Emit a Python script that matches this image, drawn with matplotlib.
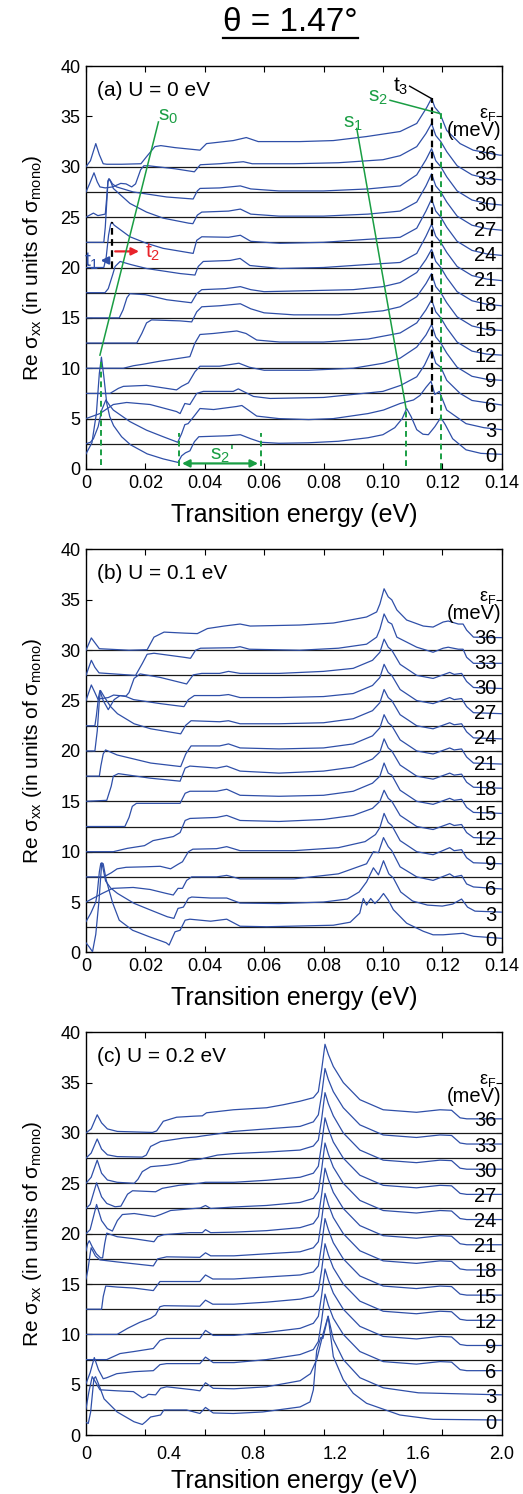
import numpy as np
import matplotlib.pyplot as plt
from matplotlib.lines import Line2D

plt.rcParams['font.family'] = ['Liberation Sans', 'DejaVu Sans']
plt.rcParams['mathtext.fontset'] = 'custom'
plt.rcParams['mathtext.rm'] = 'Liberation Sans'
plt.rcParams['mathtext.it'] = 'Liberation Sans:italic'

BLUE = '#2f4fa8'
GREEN = '#1a9e44'
RED = '#e8232a'

EF = [0, 3, 6, 9, 12, 15, 18, 21, 24, 27, 30, 33, 36]  # meV
STEP = 2.5  # vertical shift between successive curves

# ---- panel (a), U = 0 eV : (energy eV, Re sigma) per Fermi level
A0 = [(0, 1.5), (0.002, 2.6), (0.0035, 5.5), (0.0045, 9.5), (0.0052, 11.1), (0.006, 9.2), (0.007, 6.5),
      (0.008, 5.2), (0.0093, 4.3), (0.012, 3.2), (0.015, 2.4), (0.0206, 1.5), (0.026, 1.0), (0.031, 0.65),
      (0.0322, 1.3), (0.0335, 1.6), (0.035, 1.8), (0.0365, 2.7), (0.038, 3.2), (0.043, 3.25), (0.048, 3.3),
      (0.052, 3.4), (0.0555, 3.0), (0.059, 2.65), (0.065, 2.55), (0.075, 2.6), (0.085, 2.75), (0.095, 3.1),
      (0.1, 3.4), (0.104, 4.1), (0.1065, 5.0), (0.108, 6.0), (0.1095, 5.2), (0.1114, 3.9), (0.1135, 3.45),
      (0.1153, 3.4), (0.1175, 4.2), (0.1195, 5.1), (0.121, 4.4), (0.1235, 3.0), (0.128, 1.9), (0.133, 1.55),
      (0.14, 1.45)]
A3 = [(0, 0), (0.0015, 0.15), (0.0025, 0.5), (0.0041, 1.7), (0.0053, 3.35), (0.0067, 4.35), (0.008, 3.8),
      (0.0092, 3.35), (0.0148, 2.2), (0.0204, 1.35), (0.026, 0.7), (0.0309, 0.15), (0.0322, 1.0), (0.0333, 1.9),
      (0.0344, 2.0), (0.0367, 2.85), (0.0384, 3.5), (0.043, 3.4), (0.0507, 3.7), (0.0525, 3.8), (0.0575, 2.75),
      (0.065, 2.5), (0.075, 2.4), (0.0833, 2.5), (0.095, 3.0), (0.1002, 3.35), (0.1058, 4.0), (0.1103, 4.35),
      (0.1125, 4.8), (0.1145, 5.6), (0.1162, 6.2), (0.1175, 4.9), (0.119, 5.2), (0.1215, 3.35), (0.128, 2.0),
      (0.134, 1.6), (0.14, 1.4)]
A6 = [(0, 0), (0.0047, 0.5), (0.0092, 1.4), (0.0137, 1.6), (0.0216, 1.4), (0.0305, 0.7), (0.0317, 0.5),
      (0.0333, 1.5), (0.035, 1.4), (0.0373, 2.5), (0.0395, 2.7), (0.0496, 2.7), (0.0513, 2.95), (0.0564, 2.2),
      (0.062, 2.0), (0.08, 2.1), (0.1, 2.7), (0.106, 3.3), (0.1114, 4.15), (0.114, 5.3), (0.1164, 6.8),
      (0.1178, 5.5), (0.1195, 5.1), (0.1215, 3.8), (0.126, 2.5), (0.13, 1.8), (0.14, 1.35)]
A9 = [(0, 0), (0.0081, 0.0), (0.0109, 0.5), (0.0126, 0.7), (0.0204, 0.8), (0.0249, 0.6), (0.0305, 0.35),
      (0.0322, 0.7), (0.0345, 1.05), (0.0367, 2.15), (0.0384, 2.7), (0.045, 2.7), (0.0515, 3.0), (0.055, 2.6),
      (0.06, 2.3), (0.075, 2.3), (0.09, 2.5), (0.1002, 3.0), (0.1058, 3.5), (0.1114, 4.6), (0.1145, 5.8),
      (0.1164, 6.85), (0.1178, 5.6), (0.1195, 5.0), (0.1215, 4.0), (0.125, 2.6), (0.13, 1.7), (0.135, 1.4),
      (0.14, 1.3)]
A12 = [(0, 0), (0.0126, 0.0), (0.016, 0.25), (0.0193, 0.4), (0.0249, 0.7), (0.0317, 1.0), (0.035, 1.15),
       (0.0367, 2.5), (0.0384, 3.35), (0.0429, 3.45), (0.0508, 3.7), (0.0539, 3.45), (0.0575, 2.8),
       (0.0653, 2.6), (0.08, 2.6), (0.095, 2.9), (0.1058, 3.5), (0.1114, 4.5), (0.1145, 5.8), (0.1164, 6.8),
       (0.1178, 5.6), (0.1195, 5.0), (0.1215, 4.0), (0.125, 2.6), (0.13, 1.7), (0.135, 1.4), (0.14, 1.3)]
A15 = [(0, 0), (0.0171, 0.0), (0.0188, 0.95), (0.0204, 2.0), (0.0221, 2.3), (0.0317, 2.2), (0.0356, 2.1),
       (0.0373, 3.1), (0.039, 3.6), (0.045, 3.7), (0.052, 3.9), (0.0555, 3.4), (0.06, 3.0), (0.07, 2.8),
       (0.085, 2.8), (0.1, 3.2), (0.1058, 3.6), (0.1114, 4.6), (0.1145, 5.9), (0.1164, 6.9), (0.1178, 5.6),
       (0.1195, 5.0), (0.1215, 4.0), (0.125, 2.6), (0.13, 1.7), (0.135, 1.35), (0.14, 1.25)]
A18 = [(0, 0), (0.0112, 0.0), (0.0125, 0.8), (0.0138, 2.0), (0.0148, 2.4), (0.02, 2.3), (0.0272, 1.8),
       (0.0355, 1.5), (0.0373, 2.4), (0.039, 2.8), (0.047, 2.9), (0.052, 3.1), (0.0555, 2.8), (0.06, 2.6),
       (0.075, 2.7), (0.09, 2.8), (0.1, 3.1), (0.1058, 3.5), (0.1114, 4.5), (0.1145, 5.8), (0.1164, 6.8),
       (0.1178, 5.6), (0.1195, 5.0), (0.1215, 4.0), (0.125, 2.6), (0.13, 1.7), (0.135, 1.35), (0.14, 1.2)]
A21 = [(0, 0), (0.0064, 0.0), (0.0075, 0.4), (0.009, 1.8), (0.0098, 2.6), (0.0115, 3.1), (0.015, 2.8),
       (0.0204, 2.4), (0.0317, 1.9), (0.0367, 1.75), (0.0378, 2.6), (0.0395, 3.1), (0.0485, 3.2), (0.0519, 3.4),
       (0.0552, 2.7), (0.0653, 2.4), (0.08, 2.5), (0.095, 2.8), (0.1058, 3.0), (0.1114, 3.9), (0.1145, 5.6),
       (0.1164, 6.8), (0.1178, 5.6), (0.1195, 5.0), (0.1215, 4.0), (0.125, 2.6), (0.13, 1.7), (0.135, 1.35),
       (0.14, 1.2)]
A24 = [(0, 0), (0.006, 0.0), (0.0068, 1.0), (0.0076, 3.2), (0.0083, 4.3), (0.0087, 4.5), (0.0095, 4.2),
       (0.0148, 3.05), (0.0204, 2.4), (0.026, 1.9), (0.0361, 1.4), (0.0373, 2.7), (0.039, 3.05), (0.048, 3.0),
       (0.052, 3.2), (0.0555, 2.6), (0.0653, 2.4), (0.08, 2.5), (0.095, 2.8), (0.1058, 3.0), (0.1114, 3.9),
       (0.1145, 5.6), (0.1164, 6.8), (0.1178, 5.6), (0.1195, 5.0), (0.1215, 4.0), (0.125, 2.6), (0.13, 1.7),
       (0.135, 1.35), (0.14, 1.2)]
A27 = [(0, 0), (0.006, 0.0), (0.0065, 1.5), (0.007, 4.0), (0.0074, 6.0), (0.0078, 6.3), (0.0085, 5.9),
       (0.0092, 5.35), (0.0148, 3.86), (0.0204, 3.0), (0.026, 2.4), (0.0346, 1.9), (0.036, 1.85), (0.0375, 2.7),
       (0.039, 3.0), (0.048, 3.1), (0.052, 3.3), (0.0555, 2.8), (0.065, 2.6), (0.08, 2.6), (0.095, 2.8),
       (0.1058, 3.1), (0.1114, 4.0), (0.1145, 5.6), (0.1164, 6.8), (0.1178, 5.6), (0.1195, 5.0), (0.1215, 4.0),
       (0.125, 2.6), (0.13, 1.7), (0.135, 1.35), (0.14, 1.2)]
A30 = [(0, 0), (0.0025, 0.4), (0.004, 0.15), (0.0065, 0.3), (0.007, 2.0), (0.0074, 3.6), (0.0077, 3.8),
       (0.0081, 3.7), (0.0089, 3.3), (0.0103, 3.0), (0.0159, 2.5), (0.0272, 2.0), (0.0361, 1.8), (0.0375, 2.6),
       (0.0384, 2.85), (0.045, 2.9), (0.052, 3.1), (0.0555, 2.8), (0.065, 2.6), (0.08, 2.6), (0.095, 2.8),
       (0.1058, 3.1), (0.1114, 4.2), (0.1145, 5.7), (0.1164, 6.8), (0.1178, 5.6), (0.1195, 5.0), (0.1215, 4.0),
       (0.125, 2.6), (0.13, 1.7), (0.135, 1.35), (0.14, 1.2)]
A33 = [(0, 0), (0.0012, 0.8), (0.0027, 1.9), (0.0038, 1.0), (0.0047, 0.5), (0.0065, 0.4), (0.009, 0.5),
       (0.0117, 0.85), (0.0135, 0.8), (0.0154, 0.5), (0.0167, 0.8), (0.0184, 2.2), (0.0195, 2.6), (0.021, 2.6),
       (0.03, 2.3), (0.0365, 2.0), (0.0385, 2.7), (0.045, 2.8), (0.053, 3.0), (0.056, 2.8), (0.07, 2.8),
       (0.085, 2.9), (0.1, 3.2), (0.1058, 3.6), (0.1114, 4.5), (0.1145, 5.8), (0.1164, 6.8), (0.1178, 5.6),
       (0.1195, 5.0), (0.1215, 4.0), (0.125, 2.6), (0.13, 1.7), (0.135, 1.35), (0.14, 1.2)]
A36 = [(0, 0), (0.0015, 0.6), (0.0033, 2.3), (0.0045, 1.2), (0.0058, 0.3), (0.007, 0.25), (0.012, 0.25),
       (0.0185, 0.3), (0.0204, 1.0), (0.0232, 2.0), (0.0252, 2.1), (0.03, 1.9), (0.0384, 1.65), (0.0406, 2.3),
       (0.0496, 2.6), (0.054, 2.9), (0.058, 2.5), (0.072, 2.5), (0.0833, 2.6), (0.0945, 3.0), (0.1058, 3.5),
       (0.1114, 4.3), (0.1148, 5.9), (0.1164, 6.8), (0.1175, 5.9), (0.1192, 5.3), (0.1215, 3.6), (0.126, 2.3),
       (0.1304, 1.65), (0.1394, 1.15), (0.14, 1.15)]

# ---- panel (b), U = 0.1 eV
B0 = [(0, 0.96), (0.0012, 0.5), (0.0022, 0.07), (0.0033, 1.8), (0.0044, 5.2), (0.0053, 8.9), (0.0058, 8.8),
      (0.0068, 7.2), (0.009, 4.9), (0.0112, 3.2), (0.0157, 2.2), (0.0213, 1.56), (0.027, 0.96), (0.028, 0.73),
      (0.03, 2.05), (0.0317, 2.2), (0.0334, 3.2), (0.035, 3.3), (0.042, 3.1), (0.0474, 3.3), (0.0519, 2.6),
      (0.0609, 2.55), (0.0833, 2.7), (0.089, 3.0), (0.0922, 3.9), (0.0934, 5.35), (0.0945, 4.7), (0.0959, 5.35),
      (0.0973, 4.85), (0.0988, 5.3), (0.1002, 5.85), (0.1018, 5.2), (0.1035, 4.25), (0.108, 2.9),
      (0.1136, 2.1), (0.1169, 1.75), (0.1203, 1.75), (0.127, 1.9), (0.1305, 1.6), (0.14, 1.4)]
B3 = [(0, 0.55), (0.0016, 1.38), (0.0033, 2.5), (0.0038, 3.4), (0.0045, 5.5), (0.005, 6.35), (0.0055, 6.2),
      (0.0066, 4.6), (0.0083, 3.9), (0.0106, 3.36), (0.0162, 2.37), (0.0218, 1.7), (0.0274, 1.04),
      (0.0296, 0.88), (0.031, 1.87), (0.0328, 2.0), (0.0345, 2.87), (0.0356, 3.0), (0.042, 2.9), (0.0474, 2.9),
      (0.0519, 2.4), (0.065, 2.35), (0.08, 2.5), (0.088, 2.8), (0.092, 3.5), (0.0945, 4.5), (0.0968, 5.9),
      (0.0985, 5.2), (0.1002, 6.6), (0.102, 5.3), (0.1035, 4.9), (0.106, 3.5), (0.11, 2.6), (0.115, 2.2),
      (0.12, 2.1), (0.1235, 2.3), (0.1265, 2.8), (0.1285, 2.0), (0.131, 1.6), (0.14, 1.5)]
B6 = [(0, 0), (0.0055, 0.86), (0.009, 1.36), (0.0159, 1.45), (0.0216, 1.25), (0.027, 0.86), (0.0294, 0.7),
      (0.031, 1.36), (0.0325, 1.36), (0.0339, 2.15), (0.0356, 2.5), (0.044, 2.5), (0.0474, 2.65),
      (0.0519, 2.3), (0.07, 2.3), (0.085, 2.8), (0.0945, 3.8), (0.0968, 5.0), (0.0985, 4.9), (0.1002, 6.4),
      (0.1018, 5.5), (0.103, 5.1), (0.1058, 3.5), (0.1114, 2.5), (0.1169, 2.15), (0.1225, 2.8), (0.124, 2.5),
      (0.1265, 2.65), (0.1282, 1.8), (0.1305, 1.5), (0.14, 1.3)]
B9 = [(0, 0), (0.006, 0.0), (0.0085, 0.4), (0.0105, 0.8), (0.0135, 0.95), (0.02, 1.0), (0.025, 1.05),
      (0.0285, 0.8), (0.031, 1.25), (0.0325, 1.5), (0.0345, 2.5), (0.036, 2.75), (0.044, 2.8), (0.0474, 3.0),
      (0.0519, 2.6), (0.07, 2.6), (0.085, 2.9), (0.094, 3.5), (0.0975, 4.2), (0.099, 4.9), (0.1004, 6.3),
      (0.1018, 5.4), (0.103, 5.1), (0.1058, 3.6), (0.1114, 2.5), (0.1169, 2.2), (0.1225, 2.9), (0.124, 2.6),
      (0.1265, 2.7), (0.1282, 1.9), (0.1305, 1.4), (0.14, 1.3)]
B12 = [(0, 0), (0.0092, 0.0), (0.0139, 0.33), (0.0197, 0.6), (0.0226, 1.1), (0.0294, 1.5), (0.0317, 1.9),
       (0.0334, 3.1), (0.035, 3.3), (0.044, 3.4), (0.0474, 3.6), (0.0519, 3.1), (0.065, 3.0), (0.08, 3.2),
       (0.09, 3.6), (0.0965, 4.3), (0.099, 5.0), (0.1004, 6.1), (0.1018, 5.3), (0.103, 5.0), (0.1058, 3.6),
       (0.1114, 2.5), (0.1169, 2.2), (0.1225, 2.8), (0.124, 2.6), (0.1265, 2.7), (0.1282, 1.9), (0.1305, 1.4),
       (0.14, 1.3)]
B15 = [(0, 0), (0.0131, 0.0), (0.0145, 0.9), (0.0156, 2.0), (0.017, 2.3), (0.025, 2.3), (0.0317, 2.3),
       (0.0334, 3.3), (0.035, 3.5), (0.044, 3.5), (0.0474, 3.7), (0.0519, 3.1), (0.065, 3.0), (0.08, 3.1),
       (0.09, 3.5), (0.0965, 4.3), (0.099, 5.0), (0.1004, 6.3), (0.1018, 5.3), (0.103, 5.1), (0.1058, 3.6),
       (0.1114, 2.5), (0.1169, 2.2), (0.1225, 2.8), (0.124, 2.6), (0.1265, 2.7), (0.1282, 1.9), (0.1305, 1.4),
       (0.14, 1.3)]
B18 = [(0, 0), (0.007, 0.1), (0.0085, 1.5), (0.0092, 2.5), (0.0109, 2.75), (0.0216, 2.3), (0.0317, 2.0),
       (0.0334, 3.3), (0.035, 3.5), (0.044, 3.3), (0.0474, 3.5), (0.0519, 3.0), (0.065, 2.8), (0.08, 3.0),
       (0.09, 3.4), (0.0965, 4.2), (0.099, 4.9), (0.1004, 6.2), (0.1018, 5.3), (0.103, 5.0), (0.1058, 3.6),
       (0.1114, 2.5), (0.1169, 2.2), (0.1225, 2.8), (0.124, 2.6), (0.1265, 2.7), (0.1282, 1.9), (0.1305, 1.4),
       (0.14, 1.3)]
B21 = [(0, 0), (0.0045, 0.0), (0.005, 1.0), (0.0058, 2.2), (0.0066, 2.6), (0.0105, 2.1), (0.0218, 1.3),
       (0.0319, 0.95), (0.0336, 2.2), (0.0354, 3.0), (0.045, 3.0), (0.048, 3.2), (0.0519, 2.8), (0.065, 2.7),
       (0.08, 2.8), (0.09, 3.2), (0.0965, 4.0), (0.099, 4.8), (0.1004, 6.1), (0.1018, 5.3), (0.103, 5.0),
       (0.1058, 3.6), (0.1114, 2.5), (0.1169, 2.2), (0.1225, 2.8), (0.124, 2.6), (0.1265, 2.7), (0.1282, 1.9),
       (0.1305, 1.3), (0.14, 1.2)]
B24 = [(0, 0), (0.003, 0.0), (0.0038, 2.0), (0.0045, 5.0), (0.0049, 6.0), (0.0061, 5.4), (0.0083, 4.4),
       (0.0106, 3.7), (0.0162, 2.7), (0.0218, 2.2), (0.0319, 1.7), (0.0336, 2.55), (0.0354, 3.0), (0.045, 2.9),
       (0.048, 3.0), (0.0519, 2.7), (0.065, 2.7), (0.08, 2.8), (0.09, 3.2), (0.0965, 4.0), (0.099, 4.8),
       (0.1004, 6.1), (0.1018, 5.3), (0.103, 5.0), (0.1058, 3.6), (0.1114, 2.5), (0.1169, 2.2), (0.1225, 2.8),
       (0.124, 2.6), (0.1265, 2.7), (0.1282, 1.9), (0.1305, 1.3), (0.14, 1.2)]
B27 = [(0, 0), (0.003, 0.0), (0.0035, 1.0), (0.0042, 2.8), (0.0047, 3.5), (0.0058, 2.5), (0.0075, 1.6),
       (0.0095, 2.6), (0.0115, 3.0), (0.0135, 2.9), (0.016, 2.6), (0.025, 2.2), (0.033, 1.9), (0.0345, 2.6),
       (0.0365, 3.0), (0.045, 3.0), (0.048, 3.1), (0.0519, 2.8), (0.065, 2.8), (0.08, 2.9), (0.09, 3.2),
       (0.0965, 4.0), (0.099, 4.8), (0.1004, 6.1), (0.1018, 5.3), (0.103, 5.0), (0.1058, 3.6), (0.1114, 2.5),
       (0.1169, 2.2), (0.1225, 2.8), (0.124, 2.6), (0.1265, 2.7), (0.1282, 1.9), (0.1305, 1.3), (0.14, 1.2)]
B30 = [(0, 0), (0.0018, 1.55), (0.003, 0.8), (0.004, 0.15), (0.0075, 0.3), (0.0093, 0.55), (0.011, 0.5),
       (0.0135, 0.45), (0.0145, 0.8), (0.0162, 2.2), (0.0182, 2.65), (0.025, 2.3), (0.0339, 1.65),
       (0.0361, 2.55), (0.039, 2.7), (0.045, 2.7), (0.048, 2.9), (0.0519, 2.7), (0.065, 2.7), (0.08, 2.9),
       (0.09, 3.2), (0.0965, 4.0), (0.099, 4.8), (0.1004, 6.1), (0.1018, 5.3), (0.103, 5.0), (0.1058, 3.6),
       (0.1114, 2.5), (0.1169, 2.2), (0.1225, 2.8), (0.124, 2.6), (0.1265, 2.7), (0.1282, 1.9), (0.1305, 1.3),
       (0.14, 1.2)]
B33 = [(0, 0), (0.0018, 1.5), (0.003, 0.8), (0.0044, 0.25), (0.0167, 0.0), (0.019, 1.2), (0.0206, 2.1),
       (0.0229, 2.2), (0.033, 1.8), (0.0352, 1.7), (0.0369, 2.5), (0.0386, 2.7), (0.0498, 2.75), (0.0519, 2.85),
       (0.055, 2.6), (0.072, 2.5), (0.085, 2.7), (0.0945, 3.1), (0.0979, 3.8), (0.099, 4.6), (0.1004, 6.1),
       (0.1018, 5.3), (0.103, 5.1), (0.1047, 3.8), (0.1114, 2.8), (0.1169, 2.3), (0.1203, 2.7), (0.122, 2.8),
       (0.1254, 2.6), (0.127, 2.6), (0.1282, 1.8), (0.1305, 1.2), (0.14, 1.2)]
B36 = [(0, 0), (0.0018, 1.22), (0.0045, 0.15), (0.0145, 0.0), (0.0206, 0.05), (0.0229, 1.3), (0.0263, 1.8),
       (0.033, 1.7), (0.0375, 1.65), (0.0409, 2.15), (0.0465, 2.4), (0.0519, 2.6), (0.0553, 2.4), (0.072, 2.5),
       (0.0833, 2.7), (0.089, 3.0), (0.0945, 3.3), (0.0979, 3.8), (0.099, 4.6), (0.1004, 6.1), (0.1018, 5.3),
       (0.103, 5.0), (0.1047, 4.0), (0.108, 3.0), (0.1136, 2.4), (0.1169, 2.3), (0.1203, 2.8), (0.122, 2.9),
       (0.1254, 2.6), (0.127, 2.6), (0.1282, 2.0), (0.1305, 1.3), (0.14, 1.25)]

# ---- panel (c), U = 0.2 eV
C0 = [(0, 1.26), (0.011, 1.16), (0.0225, 2.3), (0.038, 5.6), (0.046, 5.8), (0.062, 5.0), (0.087, 3.6),
      (0.15, 2.3), (0.231, 1.33), (0.271, 1.06), (0.287, 1.33), (0.311, 1.8), (0.335, 1.9), (0.359, 2.0),
      (0.375, 2.5), (0.484, 2.5), (0.548, 2.15), (0.575, 2.75), (0.612, 2.2), (0.709, 2.15), (0.85, 2.3),
      (1.03, 2.8), (1.078, 3.3), (1.094, 4.5), (1.11, 8.4), (1.13, 9.7), (1.14, 9.6), (1.165, 11.8),
      (1.19, 7.8), (1.238, 5.5), (1.286, 4.15), (1.35, 3.16), (1.51, 2.0), (1.67, 1.57), (2.0, 1.5)]
C3 = [(0, 0.1), (0.014, 1.8), (0.03, 3.3), (0.045, 2.8), (0.067, 2.0), (0.15, 1.9), (0.228, 1.82),
      (0.271, 1.2), (0.287, 1.33), (0.3, 1.55), (0.335, 1.5), (0.359, 2.15), (0.388, 2.3), (0.516, 2.0),
      (0.548, 1.9), (0.575, 2.7), (0.612, 2.15), (0.712, 2.1), (0.869, 2.3), (1.03, 2.9), (1.08, 3.6),
      (1.11, 5.0), (1.14, 7.5), (1.165, 9.3), (1.19, 7.0), (1.238, 5.0), (1.318, 3.2), (1.43, 2.2),
      (1.6, 1.7), (2.0, 1.5)]
C6 = [(0, 0.1), (0.02, 1.2), (0.04, 2.7), (0.06, 1.5), (0.083, 0.6), (0.1, 0.7), (0.148, 1.1), (0.231, 1.3),
      (0.324, 1.4), (0.356, 2.0), (0.388, 2.1), (0.548, 2.1), (0.575, 2.75), (0.612, 2.2), (0.712, 2.2),
      (0.869, 2.5), (1.03, 3.0), (1.094, 3.5), (1.118, 4.3), (1.134, 6.4), (1.15, 9.0), (1.166, 7.9),
      (1.19, 6.6), (1.238, 5.0), (1.318, 3.3), (1.43, 2.3), (1.59, 2.05), (1.703, 2.3), (1.759, 2.25),
      (1.8, 1.5), (1.832, 1.4), (2.0, 1.4)]
C9 = [(0, 0), (0.1, 0.0), (0.164, 0.6), (0.231, 0.8), (0.324, 1.1), (0.356, 1.9), (0.388, 2.1), (0.548, 2.1),
      (0.575, 2.9), (0.612, 2.4), (0.712, 2.4), (0.869, 2.7), (1.03, 3.1), (1.094, 3.6), (1.118, 4.3),
      (1.134, 6.4), (1.15, 9.0), (1.166, 7.9), (1.19, 6.6), (1.238, 5.0), (1.318, 3.3), (1.43, 2.3),
      (1.59, 2.05), (1.703, 2.3), (1.759, 2.25), (1.8, 1.5), (1.832, 1.4), (2.0, 1.4)]
C12 = [(0, 0), (0.15, 0.0), (0.2, 0.6), (0.259, 1.2), (0.311, 1.6), (0.335, 1.94), (0.356, 2.75),
       (0.375, 2.85), (0.548, 2.8), (0.575, 3.4), (0.61, 3.0), (0.712, 3.0), (0.869, 3.2), (1.03, 3.5),
       (1.094, 3.8), (1.118, 4.4), (1.134, 6.4), (1.15, 9.0), (1.166, 7.9), (1.19, 6.6), (1.238, 5.0),
       (1.318, 3.3), (1.43, 2.3), (1.59, 2.05), (1.703, 2.3), (1.759, 2.25), (1.8, 1.5), (1.832, 1.4), (2.0, 1.4)]
C15 = [(0, 0), (0.075, 0.0), (0.083, 1.26), (0.095, 2.3), (0.15, 2.2), (0.231, 2.1), (0.324, 1.85),
       (0.356, 2.75), (0.548, 2.75), (0.575, 3.4), (0.61, 3.0), (0.712, 3.0), (0.869, 3.2), (1.03, 3.4),
       (1.094, 3.7), (1.118, 4.3), (1.134, 6.4), (1.15, 9.0), (1.166, 7.9), (1.19, 6.6), (1.238, 5.0),
       (1.318, 3.3), (1.43, 2.3), (1.59, 2.05), (1.703, 2.3), (1.759, 2.25), (1.8, 1.5), (1.832, 1.4), (2.0, 1.4)]
C18 = [(0, 0.5), (0.01, 1.5), (0.02, 3.0), (0.025, 3.6), (0.045, 2.8), (0.067, 2.4), (0.148, 2.2),
       (0.324, 1.8), (0.345, 2.5), (0.388, 2.7), (0.548, 2.65), (0.575, 3.1), (0.6, 2.8), (0.712, 2.8),
       (0.869, 3.0), (1.03, 3.2), (1.094, 3.6), (1.118, 4.2), (1.134, 6.4), (1.15, 9.0), (1.166, 7.9),
       (1.19, 6.6), (1.238, 5.0), (1.318, 3.3), (1.43, 2.3), (1.59, 2.05), (1.703, 2.3), (1.759, 2.25),
       (1.8, 1.5), (1.832, 1.4), (2.0, 1.4)]
C21 = [(0, 0.8), (0.008, 1.5), (0.016, 1.8), (0.03, 1.2), (0.05, 0.5), (0.07, 0.1), (0.08, 0.1), (0.09, 1.5),
       (0.1, 2.55), (0.15, 2.2), (0.231, 2.0), (0.327, 1.7), (0.345, 2.2), (0.375, 2.4), (0.5, 2.6),
       (0.56, 2.6), (0.575, 2.9), (0.6, 2.6), (0.712, 2.65), (0.869, 2.8), (1.03, 3.1), (1.094, 3.5),
       (1.118, 4.2), (1.134, 6.4), (1.15, 9.0), (1.166, 7.9), (1.19, 6.6), (1.238, 5.0), (1.318, 3.3),
       (1.43, 2.3), (1.59, 2.05), (1.703, 2.3), (1.759, 2.25), (1.8, 1.5), (1.832, 1.4), (2.0, 1.4)]
C24 = [(0, 0), (0.02, 0.4), (0.051, 2.9), (0.075, 1.3), (0.103, 0.5), (0.127, 0.26), (0.151, 1.3),
       (0.175, 1.9), (0.232, 2.0), (0.33, 1.7), (0.359, 1.9), (0.407, 2.3), (0.55, 2.55), (0.575, 2.8),
       (0.6, 2.5), (0.712, 2.65), (0.869, 2.8), (1.03, 3.1), (1.094, 3.5), (1.118, 4.2), (1.134, 6.4),
       (1.15, 9.0), (1.166, 7.9), (1.19, 6.6), (1.238, 5.0), (1.318, 3.3), (1.43, 2.3), (1.59, 2.05),
       (1.703, 2.3), (1.759, 2.25), (1.8, 1.5), (1.832, 1.4), (2.0, 1.4)]
C27 = [(0, 0), (0.02, 0.4), (0.051, 2.55), (0.075, 1.16), (0.1, 0.5), (0.14, 0.17), (0.168, 0.23),
       (0.2, 1.42), (0.224, 1.76), (0.335, 1.66), (0.367, 2.0), (0.447, 2.3), (0.543, 2.5), (0.575, 2.6),
       (0.712, 2.6), (0.869, 2.8), (1.03, 3.1), (1.094, 3.5), (1.118, 4.2), (1.134, 6.4), (1.15, 9.0),
       (1.166, 7.9), (1.19, 6.6), (1.238, 5.0), (1.318, 3.3), (1.43, 2.3), (1.59, 2.05), (1.703, 2.3),
       (1.759, 2.25), (1.8, 1.5), (1.832, 1.4), (2.0, 1.4)]
C30 = [(0, 0), (0.025, 0.6), (0.054, 2.3), (0.075, 1.0), (0.103, 0.33), (0.15, 0.1), (0.232, 0.0),
       (0.25, 0.4), (0.271, 1.16), (0.311, 1.65), (0.391, 1.8), (0.45, 2.0), (0.5, 2.3), (0.55, 2.4),
       (0.632, 2.8), (0.712, 2.95), (0.869, 3.1), (1.03, 3.3), (1.094, 3.7), (1.118, 4.3), (1.134, 6.4),
       (1.15, 9.0), (1.166, 7.9), (1.19, 6.7), (1.238, 5.0), (1.318, 3.3), (1.43, 2.3), (1.59, 2.05),
       (1.703, 2.3), (1.759, 2.25), (1.8, 1.5), (1.832, 1.4), (2.0, 1.4)]
C33 = [(0, 0), (0.025, 0.5), (0.054, 1.9), (0.075, 0.9), (0.103, 0.33), (0.15, 0.15), (0.271, 0.1),
       (0.29, 0.3), (0.311, 1.16), (0.359, 1.65), (0.471, 2.0), (0.53, 2.1), (0.56, 2.2), (0.632, 2.4),
       (0.709, 2.65), (0.869, 2.9), (1.03, 3.15), (1.094, 3.6), (1.118, 4.3), (1.134, 6.3), (1.15, 8.9),
       (1.166, 7.8), (1.19, 6.6), (1.238, 5.0), (1.318, 3.3), (1.43, 2.3), (1.59, 2.05), (1.703, 2.3),
       (1.759, 2.25), (1.8, 1.5), (1.832, 1.4), (2.0, 1.4)]
C36 = [(0, 0), (0.025, 0.4), (0.054, 1.8), (0.075, 1.0), (0.103, 0.4), (0.151, 0.15), (0.32, 0.05),
       (0.34, 0.2), (0.372, 1.16), (0.436, 1.56), (0.516, 1.66), (0.56, 1.7), (0.58, 2.0), (0.709, 2.3),
       (0.869, 2.5), (0.95, 2.8), (1.03, 3.15), (1.094, 3.5), (1.118, 4.1), (1.134, 6.3), (1.15, 8.8),
       (1.166, 7.8), (1.19, 6.6), (1.238, 5.0), (1.318, 3.3), (1.43, 2.3), (1.59, 2.05), (1.703, 2.3),
       (1.759, 2.25), (1.8, 1.5), (1.832, 1.4), (2.0, 1.4)]

CURVES_A = [A0, A3, A6, A9, A12, A15, A18, A21, A24, A27, A30, A33, A36]
CURVES_B = [B0, B3, B6, B9, B12, B15, B18, B21, B24, B27, B30, B33, B36]
CURVES_C = [C0, C3, C6, C9, C12, C15, C18, C21, C24, C27, C30, C33, C36]

TICKS_AB = [0, 0.02, 0.04, 0.06, 0.08, 0.10, 0.12, 0.14]
TICKLABELS_AB = ['0', '0.02', '0.04', '0.06', '0.08', '0.10', '0.12', '0.14']
TICKS_C = [0, 0.4, 0.8, 1.2, 1.6, 2.0]
TICKLABELS_C = ['0', '0.4', '0.8', '1.2', '1.6', '2.0']

YLABEL = r'Re σ$_{\mathrm{xx}}$ (in units of σ$_{\mathrm{mono}}$)'

fig = plt.figure(figsize=(5.23, 14.94), dpi=100)
L, W, H = 0.1644, 0.7948, 0.2697
ax_a = fig.add_axes([L, 0.6861, W, H])
ax_b = fig.add_axes([L, 0.3625, W, H])
ax_c = fig.add_axes([L, 0.0394, W, H])


def draw_panel(ax, curves, xmax, title):
    for k, pts in enumerate(curves):
        base = STEP * k
        xs = [p[0] for p in pts]
        ys = [p[1] + base for p in pts]
        if k > 0:
            ax.axhline(base, color='#1a1a1a', lw=0.9, zorder=2)
        ax.plot(xs, ys, color=BLUE, lw=0.9, zorder=3)
        ax.text(0.988, (base + 1.2) / 40, str(EF[k]), transform=ax.transAxes,
                ha='right', va='center', fontsize=14.5, zorder=4)
    ax.text(0.988, 35.2 / 40, 'ε$_{\\mathrm{F}}$', transform=ax.transAxes,
            ha='right', va='center', fontsize=13)
    ax.text(1.0, 33.6 / 40, '(meV)', transform=ax.transAxes,
            ha='right', va='center', fontsize=14.5)
    ax.text(0.026, 37.6 / 40, title, transform=ax.transAxes,
            ha='left', va='center', fontsize=15)
    ax.set_xlim(0, xmax)
    ax.set_ylim(0, 40)
    ax.set_yticks([0, 5, 10, 15, 20, 25, 30, 35, 40])
    ax.tick_params(direction='in', top=True, right=True, length=4, width=0.8,
                   labelsize=13, pad=4)
    ax.set_xlabel('Transition energy (eV)', fontsize=18)
    ax.xaxis.set_label_coords(0.5, -0.084)
    ax.set_ylabel(YLABEL, fontsize=15)
    ax.yaxis.set_label_coords(-0.1, 0.5)
    for s in ax.spines.values():
        s.set_linewidth(1.0)


draw_panel(ax_a, CURVES_A, 0.14, '(a) U = 0 eV')
draw_panel(ax_b, CURVES_B, 0.14, '(b) U = 0.1 eV')
draw_panel(ax_c, CURVES_C, 2.0, '(c) U = 0.2 eV')

for ax in (ax_a, ax_b):
    ax.set_xticks(TICKS_AB)
    ax.set_xticklabels(TICKLABELS_AB)

# panel (c): labels every 0.4, tick marks on a 7-step grid as in the original
ax_c.set_xticks(TICKS_C)
ax_c.set_xticklabels(TICKLABELS_C)
ax_c.tick_params(axis='x', which='major', length=0, pad=8)
ax_c.set_xticks(np.linspace(0, 2.0, 8), minor=True)
ax_c.tick_params(axis='x', which='minor', direction='in', top=True, length=4, width=0.8)

# ---- annotations of panel (a)
ax = ax_a
ax.plot([0.1164, 0.1164], [5.5, 36.8], ls=(0, (3, 2)), color='k', lw=1.6, zorder=4)
ax.plot([0.1196, 0.1196], [0, 35.3], ls=(0, (3, 2)), color=GREEN, lw=1.4, zorder=4)
ax.plot([0.0052, 0.0052], [0.4, 11.0], ls=(0, (3, 2)), color=GREEN, lw=1.4, zorder=4)
ax.plot([0.1078, 0.1078], [0.3, 6.0], ls=(0, (3, 2)), color=GREEN, lw=1.4, zorder=4)
ax.plot([0.0314, 0.0314], [0.3, 3.6], ls=(0, (3, 2)), color=GREEN, lw=1.4, zorder=4)
ax.plot([0.0589, 0.0589], [0.3, 3.6], ls=(0, (3, 2)), color=GREEN, lw=1.4, zorder=4)
ax.annotate('', xy=(0.0589, 0.55), xytext=(0.0314, 0.55),
            arrowprops=dict(arrowstyle='<|-|>', color=GREEN, lw=1.6, mutation_scale=11))
ax.text(0.0457, 1.5, "s$_{\\mathrm{2}}$'", color=GREEN, fontsize=15, ha='center', va='center')

ax.plot([0.0244, 0.0047], [34.45, 11.3], color=GREEN, lw=1.1, zorder=4)
ax.plot([0.0912, 0.1078], [33.8, 6.0], color=GREEN, lw=1.1, zorder=4)
ax.plot([0.1024, 0.119], [36.6, 35.3], color=GREEN, lw=1.1, zorder=4)
ax.text(0.0277, 35.0, 's$_{\\mathrm{0}}$', color=GREEN, fontsize=15, ha='center', va='center')
ax.text(0.0900, 34.3, 's$_{\\mathrm{1}}$', color=GREEN, fontsize=15, ha='center', va='center')
ax.text(0.0984, 36.9, 's$_{\\mathrm{2}}$', color=GREEN, fontsize=15, ha='center', va='center')

ax.plot([0.1090, 0.1162], [38.0, 36.8], color='k', lw=1.0, zorder=4)
ax.text(0.1061, 38.0, 't$_{\\mathrm{3}}$', color='k', fontsize=15, ha='center', va='center')

ax.plot([0.0087, 0.0087], [20.0, 24.5], ls=(0, (3, 2)), color='k', lw=1.6, zorder=4)
ax.annotate('', xy=(0.0040, 20.7), xytext=(0.0085, 20.7),
            arrowprops=dict(arrowstyle='-|>', color=BLUE, lw=1.6, mutation_scale=11))
ax.text(0.0019, 20.6, 't$_{\\mathrm{1}}$', color=BLUE, fontsize=15, ha='center', va='center')
ax.annotate('', xy=(0.0188, 21.6), xytext=(0.0089, 21.6),
            arrowprops=dict(arrowstyle='-|>', color=RED, lw=1.6, mutation_scale=11))
ax.text(0.0198, 21.5, 't$_{\\mathrm{2}}$', color=RED, fontsize=15, ha='left', va='center')

# ---- title with underline
fig.text(290 / 523, 1 - 22.5 / 1494, 'θ = 1.47°', ha='center', va='center', fontsize=24)
fig.add_artist(Line2D([223 / 523, 358 / 523], [1 - 38.3 / 1494] * 2,
                      transform=fig.transFigure, color='k', lw=1.6))

fig.savefig('out.png', dpi=100)
